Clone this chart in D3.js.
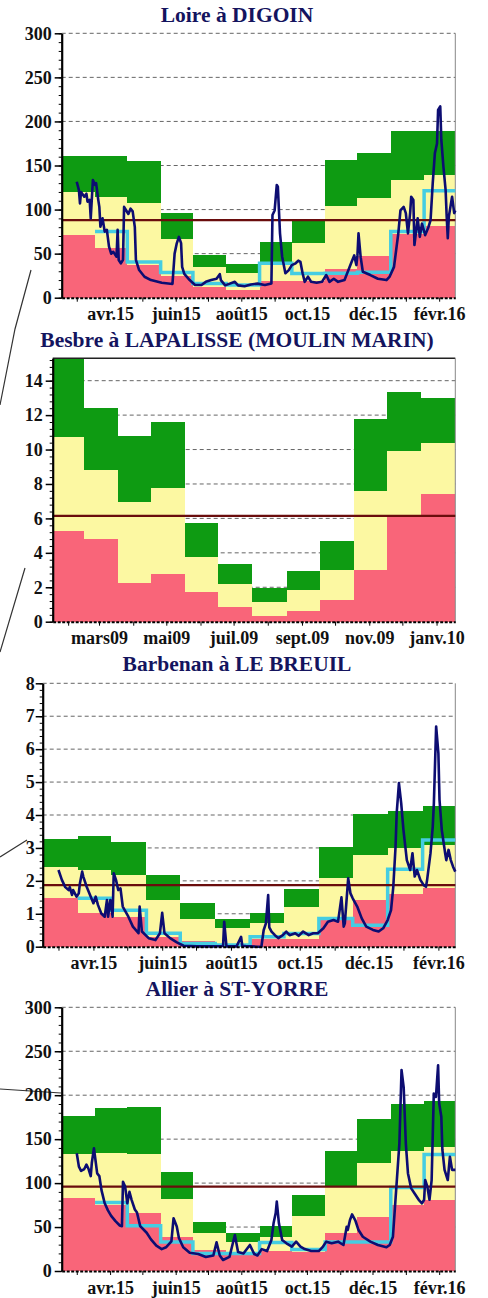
<!DOCTYPE html>
<html>
<head>
<meta charset="utf-8">
<script src="https://cdn.jsdelivr.net/npm/d3@7"></script>
<style>
body { margin: 0; background: #fff; }
svg text { font-family: "Liberation Serif", "Times New Roman", serif; font-weight: bold; }
</style>
</head>
<body>
<div id="chart"></div>
<script>
// months of each station (first month of the 12 monthly blocks)
var start15 = new Date(Date.UTC(2015, 2, 1));
var start09 = new Date(Date.UTC(2009, 1, 1));
var labels15 = ["avr.15", "juin15", "août15", "oct.15", "déc.15", "févr.16"];
var labels09 = ["mars09", "mai09", "juil.09", "sept.09", "nov.09", "janv.10"];

// Loire à DIGOIN
var loirePink = [71, 56, 37, 25, 11.7, 8.7, 19, 19, 33, 47.5, 72, 81.5];
var loireYellow = [119.6, 114.6, 107.8, 66.2, 35.2, 28.4, 40.9, 62.4, 104, 113.5, 133.5, 139.2];
var loireGreen = [160.8, 160.8, 155.5, 95.7, 48.5, 38.2, 63.6, 87.4, 156.2, 163.8, 189.2, 189.2];
var loireMean = [null, 75, 40.5, 28.6, 16, 14.4, 39, 27.6, 27.7, 29, 75, 121.4];
var loireModule = 88;
var loireDays = [14,16,17,18,21,23,24,26,27,29,31,32,34,35,36,38,40,42,44,46,48,51,52,53,55,57,58,60,62,64,66,68,69,72,77,83,93,103,105,107,109,111,112,114,119,124,130,134,139,144,147,148,152,161,164,170,176,182,189,195,196,198,200,201,203,205,208,211,214,217,220,222,224,226,229,232,237,242,246,249,253,257,263,270,272,274,275,276,278,280,287,294,302,305,309,313,315,318,320,322,324,325,327,328,331,333,335,338,341,343,345,347,349,350,352,353,355,357,358,359,360,363,365,366];
var loireFlow = [131.6,122,107,120,114.6,118,109,111,90,133.5,128,130,111,103,80.6,90,75,77,58,50,52,46.5,77,42.8,39,43,103,99,95,101,98,80,43,31.4,23.8,20,17,15.6,50,61.7,69,62,35,27,20,14.4,14.4,18,20,21.5,26.7,20,14,18,14,13,15,16,14.4,16,93.8,99,127.9,126,73,46.5,27.7,31,37,38.6,42,40.6,27.7,18,23.8,18,17,18,25.7,18,21.5,18,20,42,48,37,48,73,46,29.5,25.7,21.5,20,24,35,73,99,103,96,73,96,114.6,111,59.8,90,69,84,71,80,88,129.8,163.8,175,213,217,179,148,122,92,67.4,92,114.6,96,99];

// Besbre à LAPALISSE (MOULIN MARIN)
var besbrePink = [5.28, 4.79, 2.27, 2.75, 1.75, 0.87, 0.35, 0.62, 1.26, 3.0, 6.15, 7.43];
var besbreYellow = [10.75, 8.79, 6.98, 7.76, 3.78, 2.17, 1.16, 1.82, 3.0, 7.57, 9.89, 10.38];
var besbreGreen = [15.3, 12.41, 10.77, 11.62, 5.74, 3.34, 1.94, 2.95, 4.69, 11.79, 13.35, 13.0];
var besbreModule = 6.15;

// Barbenan à LE BREUIL
var barbPink = [1.47, 1.03, 0.91, 0.3, 0.18, 0.07, 0.24, 0.22, 0.81, 1.41, 1.6, 1.77];
var barbYellow = [2.43, 2.33, 2.18, 1.42, 0.84, 0.56, 0.71, 1.22, 2.08, 2.78, 2.99, 3.09];
var barbGreen = [3.26, 3.37, 3.19, 2.18, 1.34, 0.85, 1.01, 1.74, 3.04, 4.03, 4.13, 4.27];
var barbMean = [null, 1.47, 1.11, 0.41, 0.1, 0.05, 0.3, 0.4, 0.86, 0.65, 2.35, 3.24];
var barbModule = 1.87;
var barbDays = [14,17,20,23,24,26,27,30,32,33,35,36,39,42,45,47,49,52,55,57,58,60,62,63,65,67,69,71,76,80,85,86,88,94,100,104,106,108,113,119,125,137,151,160,161,163,172,176,177,180,191,194,196,198,200,201,203,206,209,213,216,219,224,227,231,236,240,244,249,253,258,262,265,267,268,271,273,275,279,283,287,293,298,302,306,309,311,313,314,316,318,320,323,326,328,330,332,335,338,340,341,344,346,347,349,351,352,354,357,358,360,362,364,366];
var barbFlow = [2.33,2.03,1.81,1.72,1.81,1.57,1.72,1.52,1.62,1.92,2.28,2.13,1.82,1.57,1.32,1.52,1.27,1.01,0.91,1.42,0.91,1.42,0.91,2.23,2.03,1.72,1.77,1.22,0.91,0.61,0.41,1.22,0.46,0.26,0.2,0.41,1.03,0.41,0.26,0.13,0.03,0.01,0.01,0.02,0.76,0.01,0.01,0.3,0.03,0.02,0,0,0.5,0.71,1.57,0.59,0.46,0.35,0.26,0.35,0.46,0.35,0.41,0.33,0.46,0.35,0.41,0.41,0.56,0.76,0.81,0.76,1.5,0.61,0.71,2.08,1.62,1.47,1.22,0.86,0.61,0.51,0.46,0.56,0.81,1.11,1.82,3.04,4.05,4.97,4.36,3.55,2.63,2.33,2.84,2.13,2.33,2.03,1.87,1.82,2.03,2.84,3.65,4.36,6.69,5.87,4.46,3.55,2.84,2.63,2.94,2.63,2.43,2.28];

// Allier à ST-YORRE
var allierPink = [82.7, 75, 65.6, 39, 24, 20, 22.8, 22, 42.9, 61.8, 75, 80.8];
var allierYellow = [132.7, 133.9, 132.7, 81.5, 42.9, 33.4, 39, 63, 97, 122.5, 136.5, 141.4];
var allierGreen = [176.7, 185, 187, 113, 55.4, 42.9, 51.6, 86.5, 136.5, 173, 189.6, 193.4];
var allierMean = [null, 78, 51.5, 33, 20, 20, 32.5, 24.5, 33, 33, 95, 132.5];
var allierModule = 95.9;
var allierDays = [14,16,18,21,23,25,27,28,30,31,33,35,37,40,43,46,50,54,56,57,59,61,63,65,68,70,73,79,83,88,93,97,102,104,107,109,113,119,127,134,141,144,147,150,156,161,164,169,175,179,182,186,191,195,197,199,200,202,205,209,214,218,222,226,232,239,243,246,251,257,262,265,266,268,270,273,276,280,287,294,302,305,308,311,314,316,318,320,322,325,328,332,335,337,338,340,342,344,346,348,350,351,353,354,356,359,361,363,366];
var allierFlow = [133.9,118.7,114,116,121,116,108,122.8,139.6,130,111,108,92,77,69,62.7,56.7,51.8,51,101.6,96,77,90,81,70,66.5,51,43.5,36,28.8,24.9,27,33.6,60,50.7,37.5,27,20.8,19.3,16,17.7,32.6,17.7,12.5,16,41,21.5,20,29.6,19.3,17.7,24.9,22.7,35.3,54.2,65.9,78.9,54.2,35.3,31.5,27.8,33.4,27.8,24.9,22.7,22.7,27.8,33.4,31.5,33.4,29.6,50.4,46.6,57.7,64.4,57.7,46.6,39,33.4,29.6,27,29.6,39,92,145,228.7,209,145,111,94,88.4,81,77,81,103.5,96,81,103.5,202,198,234,191,175.5,137.7,115,103.5,130,115,115];

var panels = [
    {title: "Loire à DIGOIN", start: start15, labels: labels15, yMax: 300, step: 50,
     pink: loirePink, yellow: loireYellow, green: loireGreen, mean: loireMean, module: loireModule,
     days: loireDays, flow: loireFlow, top: 33.3, bottom: 297.7, left: 61.7, titleY: 21.5, pad: 3},
    {title: "Besbre à LAPALISSE (MOULIN MARIN)", start: start09, labels: labels09, yMax: 15.3, step: 2,
     pink: besbrePink, yellow: besbreYellow, green: besbreGreen, mean: null, module: besbreModule,
     days: null, flow: null, top: 358.3, bottom: 621.7, left: 52.7, titleY: 347, pad: 3, border: true},
    {title: "Barbenan à LE BREUIL", start: start15, labels: labels15, yMax: 8, step: 1,
     pink: barbPink, yellow: barbYellow, green: barbGreen, mean: barbMean, module: barbModule,
     days: barbDays, flow: barbFlow, top: 683.3, bottom: 946.7, left: 42.7, titleY: 671, pad: 1},
    {title: "Allier à ST-YORRE", start: start15, labels: labels15, yMax: 300, step: 50,
     pink: allierPink, yellow: allierYellow, green: allierGreen, mean: allierMean, module: allierModule,
     days: allierDays, flow: allierFlow, top: 1007.3, bottom: 1271, left: 61.7, titleY: 996, pad: 3}
];

var right = 455.3;

var svg = d3.select("#chart").append("svg")
    .attr("width", 488)
    .attr("height", 1298);

// little connector lines on the left side
svg.append("path")
    .attr("d", "M31,270 L15,329 L0,405 M25,568 L0,652 M27,840 L0,857 M0,1089 L61,1093")
    .attr("fill", "none")
    .attr("stroke", "#333")
    .attr("stroke-width", 1.2);

panels.forEach(function (p) {
    var g = svg.append("g");
    var end = d3.utcMonth.offset(p.start, 12);
    var months = d3.utcMonth.range(p.start, end);

    var x = d3.scaleUtc().domain([p.start, end]).range([p.left, right]);
    var y = d3.scaleLinear().domain([0, p.yMax]).range([p.bottom, p.top]);

    var major = d3.range(0, p.yMax + 1e-6, p.step);
    var minor = d3.range(0, p.yMax + 1e-6, p.step / 5);

    // dashed grid behind the blocks
    g.selectAll(".grid").data(major.filter(function (d) { return d > 0; }))
        .enter().append("line")
        .attr("x1", p.left).attr("x2", right)
        .attr("y1", function (d) { return y(d); })
        .attr("y2", function (d) { return y(d); })
        .attr("stroke", "#666")
        .attr("stroke-dasharray", "4,3");

    // monthly blocks: pink / yellow / green
    months.forEach(function (m, i) {
        var x0 = x(m), x1 = x(d3.utcMonth.offset(m, 1));
        var bands = [[0, p.pink[i], "#f96579"], [p.pink[i], p.yellow[i], "#fcf8a2"], [p.yellow[i], p.green[i], "#0e9b12"]];
        bands.forEach(function (b) {
            g.append("rect")
                .attr("x", x0)
                .attr("width", x1 - x0)
                .attr("y", y(b[1]))
                .attr("height", y(b[0]) - y(b[1]))
                .attr("fill", b[2])
                .attr("shape-rendering", "crispEdges");
        });
    });

    if (p.border) {
        g.append("line")
            .attr("x1", p.left).attr("x2", right)
            .attr("y1", p.top).attr("y2", p.top)
            .attr("stroke", "#222").attr("stroke-width", 1.5);
    }
    g.append("line")
        .attr("x1", right).attr("x2", right)
        .attr("y1", p.top).attr("y2", p.bottom)
        .attr("stroke", "#888");

    // monthly mean step line
    if (p.mean) {
        var steps = months.map(function (m, i) { return {date: m, v: p.mean[i]}; });
        steps.push({date: end, v: p.mean[11]});
        g.append("path")
            .datum(steps)
            .attr("fill", "none")
            .attr("stroke", "#45cde2")
            .attr("stroke-width", 3.5)
            .attr("d", d3.line()
                .defined(function (d) { return d.v != null; })
                .curve(d3.curveStepAfter)
                .x(function (d) { return x(d.date); })
                .y(function (d) { return y(d.v); }));
    }

    // module
    g.append("line")
        .attr("x1", p.left).attr("x2", right)
        .attr("y1", y(p.module)).attr("y2", y(p.module))
        .attr("stroke", "#6a0d0d")
        .attr("stroke-width", 2.2);

    // daily flow
    if (p.flow) {
        var pts = p.days.map(function (d, i) { return [d3.utcDay.offset(p.start, d), p.flow[i]]; });
        g.append("path")
            .datum(pts)
            .attr("fill", "none")
            .attr("stroke", "#0d0d72")
            .attr("stroke-width", 2.6)
            .attr("stroke-linejoin", "round")
            .attr("d", d3.line()
                .x(function (d) { return x(d[0]); })
                .y(function (d) { return y(d[1]); }));
    }

    // axes
    var minorAxis = g.append("g")
        .attr("transform", "translate(" + p.left + ",0)")
        .call(d3.axisLeft(y).tickValues(minor).tickSize(3).tickFormat(""));
    minorAxis.select(".domain").remove();

    var yAxis = g.append("g")
        .attr("transform", "translate(" + p.left + ",0)")
        .call(d3.axisLeft(y).tickValues(major).tickSize(7).tickSizeOuter(0).tickPadding(p.pad));
    yAxis.select(".domain").attr("stroke-width", 2.2);
    yAxis.selectAll("line").attr("stroke-width", 1.5);

    var mids = months.map(function (m) { return d3.utcDay.offset(m, 14); });
    var xAxis = g.append("g")
        .attr("transform", "translate(0," + p.bottom + ")")
        .call(d3.axisBottom(x).tickValues(mids).tickSize(4).tickSizeOuter(0).tickPadding(6)
            .tickFormat(function (d, i) { return i % 2 == 1 ? p.labels[(i - 1) / 2] : ""; }));
    xAxis.select(".domain").attr("stroke-width", 2).attr("stroke-dasharray", "3,1.5");

    g.selectAll(".tick text")
        .attr("font-family", "'Liberation Serif', 'Times New Roman', serif")
        .attr("font-size", 18)
        .attr("font-weight", "bold")
        .attr("fill", "#111");

    g.append("text")
        .attr("x", 237)
        .attr("y", p.titleY)
        .attr("text-anchor", "middle")
        .attr("font-size", 21.5)
        .attr("fill", "#14145e")
        .text(p.title);
});
</script>
</body>
</html>
